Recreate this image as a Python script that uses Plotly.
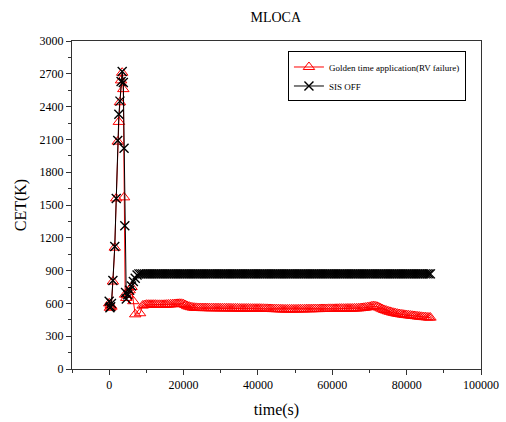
import plotly.graph_objects as go

# ---- data ----
spike_red_t = [0, 200, 400, 600, 1000, 1500, 1900, 2300, 2600, 2900, 3200, 3500, 3800, 4000, 4300,
               4600, 5000, 5500, 6000, 6500, 7000, 8300]
spike_red_v = [600, 560, 580, 570, 800, 1110, 1560, 2080, 2260, 2440, 2640, 2710, 2560, 1570, 680,
               650, 680, 720, 750, 620, 500, 510]

plateau_t = [9000, 9500, 10000, 10500, 11000, 11500, 12000, 12500, 13000, 13500, 14000, 14500,
             15000, 15500, 16000, 16500, 17000, 17500, 18000, 18500, 19000, 19500, 20000, 20500,
             21000, 21500, 22000, 22500, 23000, 23500, 24000, 24500, 25000, 25500, 26000, 26500,
             27000, 27500, 28000, 28500, 29000, 29500, 30000, 30500, 31000, 31500, 32000, 32500,
             33000, 33500, 34000, 34500, 35000, 35500, 36000, 36500, 37000, 37500, 38000, 38500,
             39000, 39500, 40000, 40500, 41000, 41500, 42000, 42500, 43000, 43500, 44000, 44500,
             45000, 45500, 46000, 46500, 47000, 47500, 48000, 48500, 49000, 49500, 50000, 50500,
             51000, 51500, 52000, 52500, 53000, 53500, 54000, 54500, 55000, 55500, 56000, 56500,
             57000, 57500, 58000, 58500, 59000, 59500, 60000, 60500, 61000, 61500, 62000, 62500,
             63000, 63500, 64000, 64500, 65000, 65500, 66000, 66500, 67000, 67500, 68000, 68500,
             69000, 69500, 70000, 70500, 71000, 71500, 72000, 72500, 73000, 73500, 74000, 74500,
             75000, 75500, 76000, 76500, 77000, 77500, 78000, 78500, 79000, 79500, 80000, 80500,
             81000, 81500, 82000, 82500, 83000, 83500, 84000, 84500, 85000, 85500, 86000, 86400]

plateau_red_v = [580, 585, 588, 588, 588, 588, 588, 588, 587, 587, 587, 587,
                 588, 589, 590, 591, 592, 594, 595, 596, 597, 596, 592, 585,
                 575, 570, 565, 562, 560, 559, 558, 558, 557, 557, 557, 557,
                 556, 556, 556, 556, 556, 556, 555, 555, 555, 555, 555, 555,
                 554, 554, 554, 554, 553, 553, 553, 553, 553, 553, 552, 552,
                 552, 552, 552, 552, 551, 551, 550, 550, 549, 549, 548, 548,
                 547, 547, 546, 546, 545, 545, 545, 545, 545, 545, 545, 545,
                 546, 546, 546, 546, 547, 547, 547, 547, 548, 548, 548, 548,
                 549, 549, 549, 549, 550, 550, 550, 550, 551, 551, 552, 552,
                 552, 552, 553, 553, 553, 553, 554, 554, 555, 556, 558, 560,
                 562, 565, 568, 572, 575, 574, 570, 563, 555, 547, 540, 534,
                 528, 523, 518, 514, 510, 506, 503, 500, 498, 495, 493, 491,
                 489, 487, 485, 483, 481, 479, 477, 475, 474, 472, 471, 470]

spike_black_t = [0, 200, 400, 600, 1000, 1500, 1900, 2300, 2600, 2900, 3200, 3500, 3800, 4000, 4200,
                 4400, 4600, 5000, 5500, 6000, 6500, 7000, 7500, 8000, 8500]
spike_black_v = [620, 560, 570, 600, 810, 1120, 1560, 2090, 2330, 2450, 2630, 2720, 2620, 2020, 1310,
                 700, 640, 680, 720, 760, 800, 830, 860, 870, 870]

plateau_black_v = [870, 870, 870, 870, 870, 870, 870, 870, 870, 870, 870, 870,
                   870, 870, 870, 870, 870, 870, 870, 870, 870, 870, 870, 870,
                   870, 870, 870, 870, 870, 870, 870, 870, 870, 870, 870, 870,
                   870, 870, 870, 870, 870, 870, 870, 870, 870, 870, 870, 870,
                   870, 870, 870, 870, 870, 870, 870, 870, 870, 870, 870, 870,
                   870, 870, 870, 870, 870, 870, 870, 870, 870, 870, 870, 870,
                   870, 870, 870, 870, 870, 870, 870, 870, 870, 870, 870, 870,
                   870, 870, 870, 870, 870, 870, 870, 870, 870, 870, 870, 870,
                   870, 870, 870, 870, 870, 870, 870, 870, 870, 870, 870, 870,
                   870, 870, 870, 870, 870, 870, 870, 870, 870, 870, 870, 870,
                   870, 870, 870, 870, 870, 870, 870, 870, 870, 870, 870, 870,
                   870, 870, 870, 870, 870, 870, 870, 870, 870, 870, 870, 870,
                   870, 870, 870, 870, 870, 870, 870, 870, 870, 870, 870, 870]

x_ticks = [0, 20000, 40000, 60000, 80000, 100000]
y_ticks = [0, 300, 600, 900, 1200, 1500, 1800, 2100, 2400, 2700, 3000]

red_t = spike_red_t + plateau_t
red_v = spike_red_v + plateau_red_v
black_t = spike_black_t + plateau_t
black_v = spike_black_v + plateau_black_v

FONT = "Liberation Serif, Times New Roman, serif"

fig = go.Figure()
fig.add_trace(go.Scatter(
    x=red_t, y=red_v, mode="lines+markers",
    name="Golden time application(RV failure)",
    line=dict(color="red", width=1),
    marker=dict(symbol="triangle-up-open", size=10, color="red", line=dict(width=1, color="red")),
))
fig.add_trace(go.Scatter(
    x=black_t, y=black_v, mode="lines+markers",
    name="SIS OFF",
    line=dict(color="black", width=1),
    marker=dict(symbol="x-thin-open", size=9, color="black", line=dict(width=1.4, color="black")),
))

axis_common = dict(
    showline=True, linecolor="#333", linewidth=1, mirror=True,
    ticks="outside", ticklen=5, tickwidth=1, tickcolor="#333",
    showgrid=False, zeroline=False, automargin=False,
    tickfont=dict(family=FONT, size=12, color="black"),
)

fig.update_xaxes(
    range=[-10000, 100000], tickvals=x_ticks, ticktext=[str(v) for v in x_ticks],
    minor=dict(ticks="outside", ticklen=3, tickcolor="#333", dtick=10000, tick0=0, showgrid=False),
    title=dict(text="time(s)", font=dict(family=FONT, size=16, color="black"), standoff=12),
    **axis_common,
)
fig.update_yaxes(
    range=[0, 3000], tickvals=y_ticks, ticktext=[str(v) for v in y_ticks],
    minor=dict(ticks="outside", ticklen=3, tickcolor="#333", dtick=150, tick0=0, showgrid=False),
    title=dict(text="CET(K)", font=dict(family=FONT, size=16, color="black"), standoff=8),
    **axis_common,
)

fig.update_layout(
    width=506, height=422,
    margin=dict(l=72, r=25, t=41, b=53, autoexpand=False),
    paper_bgcolor="white", plot_bgcolor="white",
    font=dict(family=FONT, color="black"),
    title=dict(text="MLOCA", x=0.545, xanchor="center", y=0.96, yanchor="middle",
               font=dict(family=FONT, size=14, color="black")),
    legend=dict(
        x=0.528, y=0.968, xanchor="left", yanchor="top",
        bgcolor="white", bordercolor="black", borderwidth=1,
        font=dict(family=FONT, size=9, color="black"),
        itemwidth=30, tracegroupgap=0,
    ),
    showlegend=True,
)

fig.write_html("out.html")
